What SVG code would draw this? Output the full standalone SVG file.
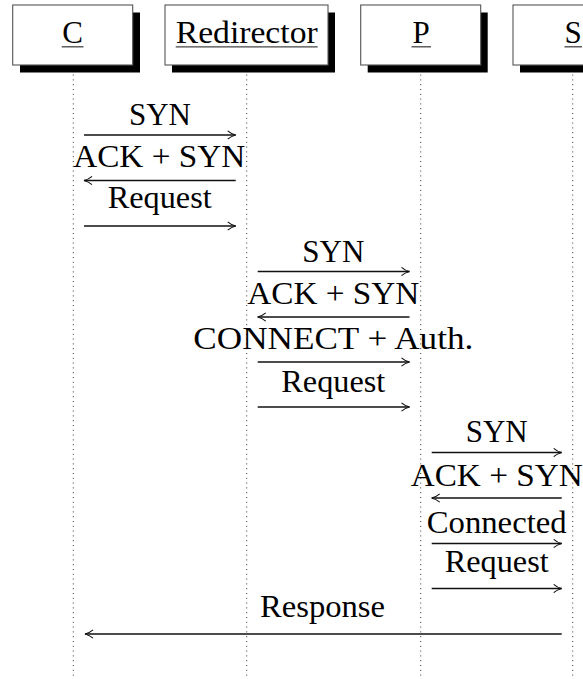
<svg xmlns="http://www.w3.org/2000/svg" width="583" height="679" viewBox="0 0 583 679">
<style>
  .lbl { font-family: "Liberation Serif", "DejaVu Serif", serif; font-size: 31px; fill: #000; text-anchor: middle; }
  .life { stroke: #333; stroke-width: 1; stroke-dasharray: 1 3.8; fill: none; }
  .box { fill: #fff; stroke: #555; stroke-width: 1.1; }
  .shadow { fill: #000; }
  .ul { stroke: #444; stroke-width: 1.3; }
  .msg { stroke: #111; stroke-width: 1.3; fill: none; marker-end: url(#to); }
</style>
<defs>
  <marker id="to" markerUnits="userSpaceOnUse" viewBox="-9 -5 10 10" markerWidth="10" markerHeight="10" refX="0" refY="0" orient="auto" overflow="visible">
    <path d="M-8,-4.2 C-5.5,-2 -2,-0.5 0,0 C-2,0.5 -5.5,2 -8,4.2" fill="none" stroke="#111" stroke-width="1.1"/>
  </marker>
</defs>

<g id="lifelines">
  <line class="life" x1="73.3" y1="65" x2="73.3" y2="679"/>
  <line class="life" x1="246.7" y1="65" x2="246.7" y2="679"/>
  <line class="life" x1="420.7" y1="65" x2="420.7" y2="679"/>
  <line class="life" x1="572.7" y1="65" x2="572.7" y2="679"/>
</g>

<g id="node-C">
  <rect class="shadow" x="20" y="12.5" width="120" height="60"/>
  <rect class="box" x="12.7" y="5" width="120" height="60"/>
  <text class="lbl" x="72.7" y="42.5" font-family="Liberation Serif, serif">C</text>
  <line class="ul" x1="61.7" y1="46.8" x2="83.5" y2="46.8"/>
</g>
<g id="node-Redirector">
  <rect class="shadow" x="172" y="12.5" width="163" height="60"/>
  <rect class="box" x="165" y="5" width="163" height="60"/>
  <text class="lbl" x="246.7" y="42.5" textLength="142" lengthAdjust="spacingAndGlyphs">Redirector</text>
  <line class="ul" x1="175.7" y1="46.8" x2="317.7" y2="46.8"/>
</g>
<g id="node-P">
  <rect class="shadow" x="367.7" y="12.5" width="120" height="60"/>
  <rect class="box" x="360.7" y="5" width="120" height="60"/>
  <text class="lbl" x="421" y="42.5">P</text>
  <line class="ul" x1="411.5" y1="46.8" x2="431" y2="46.8"/>
</g>
<g id="node-S">
  <rect class="shadow" x="520" y="12.5" width="120" height="60"/>
  <rect class="box" x="513" y="5" width="120" height="60"/>
  <text class="lbl" x="573" y="42.5">S</text>
  <line class="ul" x1="564.5" y1="46.8" x2="582" y2="46.8"/>
</g>

<g id="connectors">
  <line class="msg" x1="84" y1="135" x2="235.7" y2="135"/>
  <line class="msg" x1="235.7" y1="180.5" x2="84" y2="180.5"/>
  <line class="msg" x1="84" y1="226" x2="235.7" y2="226"/>

  <line class="msg" x1="257.7" y1="271.5" x2="409.5" y2="271.5"/>
  <line class="msg" x1="409.5" y1="317" x2="257.7" y2="317"/>
  <line class="msg" x1="257.7" y1="362" x2="409.5" y2="362"/>
  <line class="msg" x1="257.7" y1="407" x2="409.5" y2="407"/>

  <line class="msg" x1="431.7" y1="452.5" x2="561.7" y2="452.5"/>
  <line class="msg" x1="561.7" y1="498" x2="431.7" y2="498"/>
  <line class="msg" x1="431.7" y1="543.5" x2="561.7" y2="543.5"/>
  <line class="msg" x1="431.7" y1="588.5" x2="561.7" y2="588.5"/>

  <line class="msg" x1="561.7" y1="634" x2="85" y2="634"/>
</g>

<g id="labels">
  <text class="lbl" x="160" y="125">SYN</text>
  <text class="lbl" x="159.2" y="166.5" textLength="172" lengthAdjust="spacingAndGlyphs">ACK + SYN</text>
  <text class="lbl" x="159.7" y="207.7" textLength="104" lengthAdjust="spacingAndGlyphs">Request</text>

  <text class="lbl" x="333.3" y="261.7">SYN</text>
  <text class="lbl" x="333.3" y="304" textLength="172" lengthAdjust="spacingAndGlyphs">ACK + SYN</text>
  <text class="lbl" x="333.3" y="349.3" textLength="280" lengthAdjust="spacingAndGlyphs">CONNECT + Auth.</text>
  <text class="lbl" x="333.3" y="391.7" textLength="104" lengthAdjust="spacingAndGlyphs">Request</text>

  <text class="lbl" x="496.7" y="442">SYN</text>
  <text class="lbl" x="496.7" y="486" textLength="172" lengthAdjust="spacingAndGlyphs">ACK + SYN</text>
  <text class="lbl" x="496.7" y="533.3" textLength="140" lengthAdjust="spacingAndGlyphs">Connected</text>
  <text class="lbl" x="496.7" y="572" textLength="104" lengthAdjust="spacingAndGlyphs">Request</text>

  <text class="lbl" x="322.5" y="616.7" textLength="125" lengthAdjust="spacingAndGlyphs">Response</text>
</g>
</svg>
